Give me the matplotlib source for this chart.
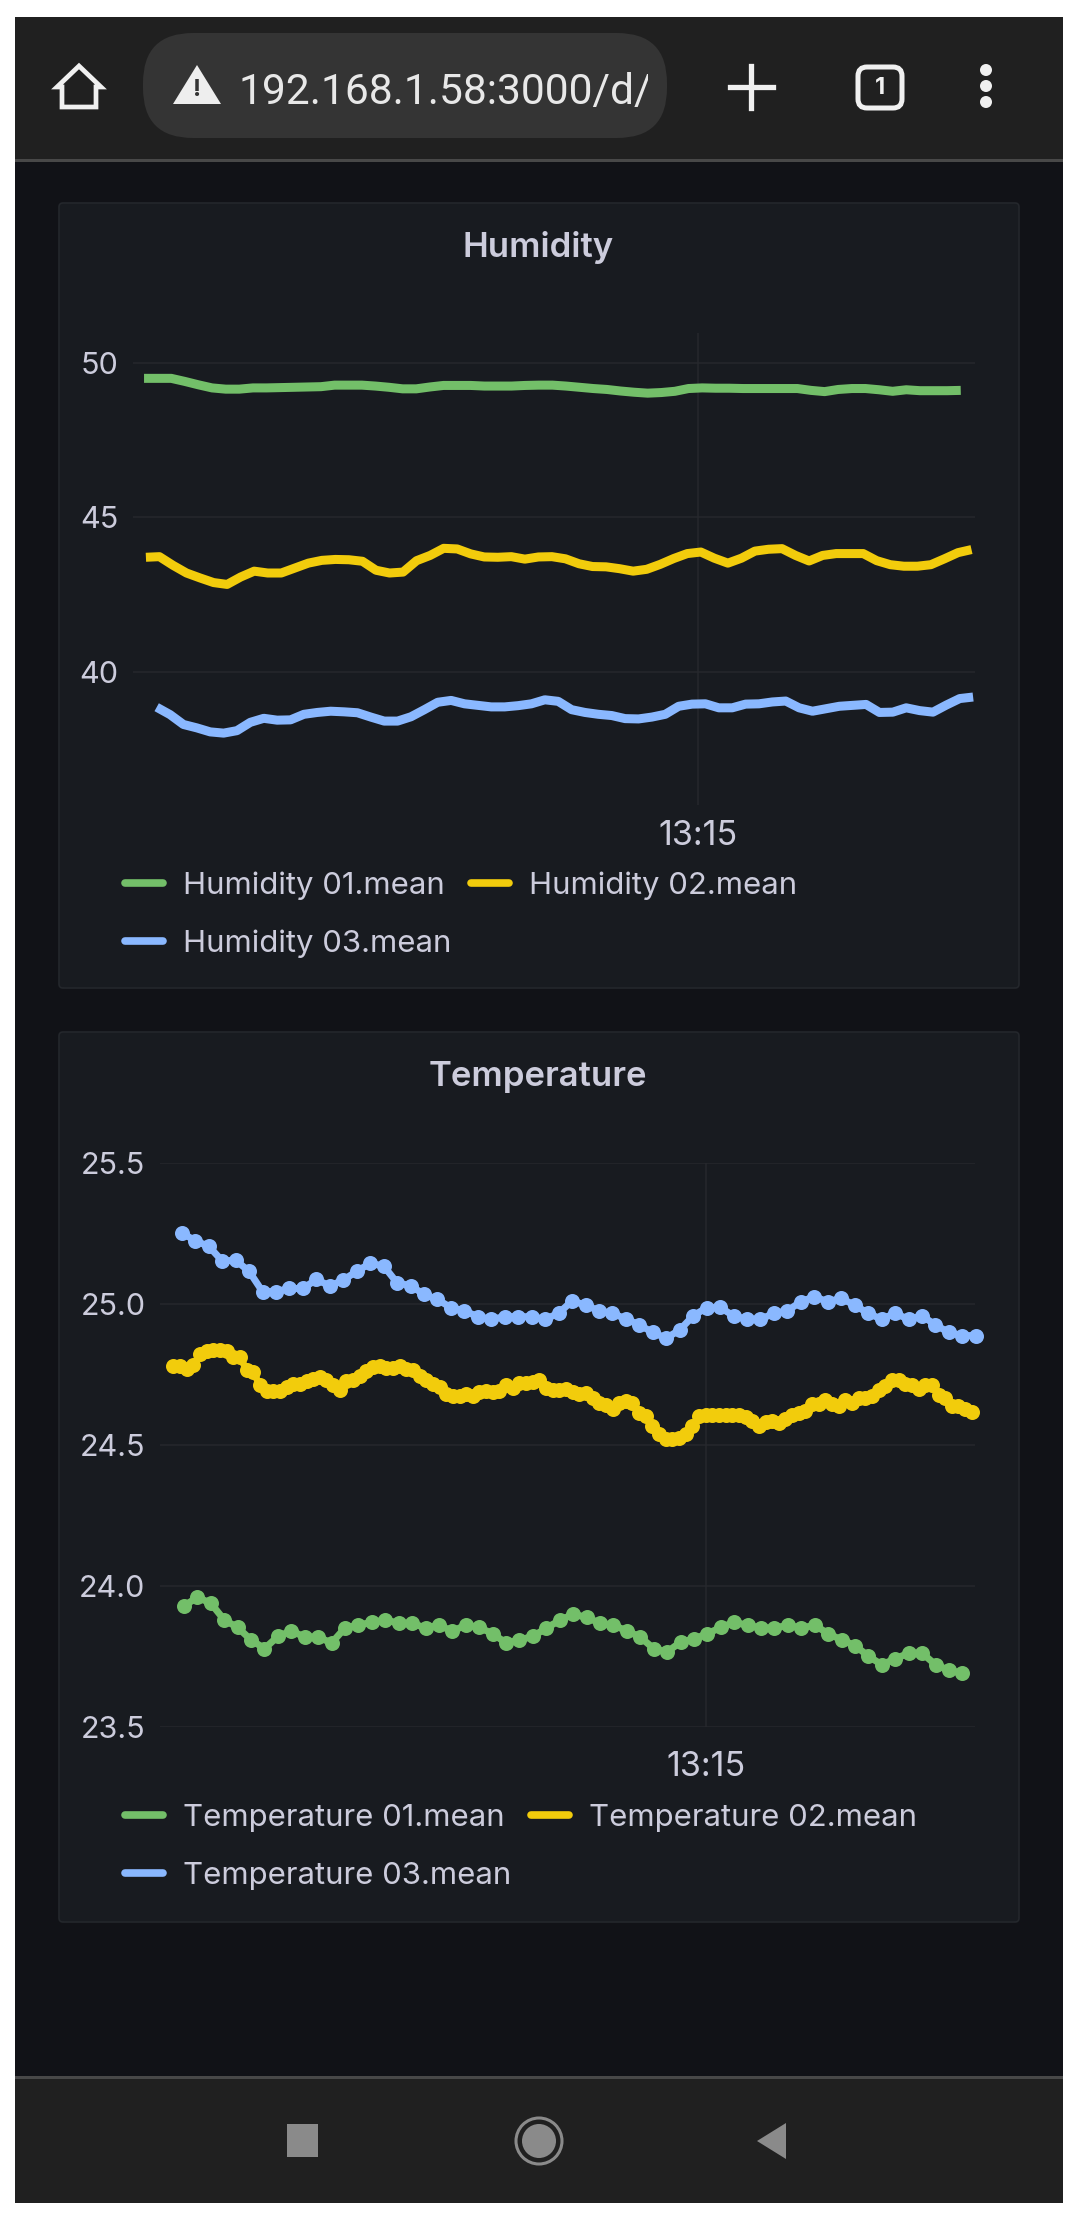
import numpy as np
import matplotlib
matplotlib.use("Agg")
import matplotlib.pyplot as plt
from matplotlib.lines import Line2D
from matplotlib.patches import Circle, FancyBboxPatch, Polygon, Rectangle

W, H = 1083, 2223

GREEN = "#73BF69"
YELLOW = "#F2CC0C"
BLUE = "#8AB8FF"
TEXT = "#ccccdc"
GRID = "#26282d"

# minutes after 13:00, start and end of each series
hum_green_span = (-5.59, 24.77)
hum_yellow_span = (-5.52, 25.17)
hum_blue_span = (-5.12, 25.23)
temp_green_span = (-4.41, 24.53)
temp_yellow_span = (-4.80, 24.88)
temp_blue_span = (-4.49, 25.03)

hum_green = [49.51, 49.51, 49.51, 49.41, 49.30, 49.20, 49.16, 49.16, 49.20, 49.20, 49.21,
             49.22, 49.23, 49.24, 49.29, 49.29, 49.29, 49.26, 49.22, 49.17, 49.17, 49.23,
             49.28, 49.28, 49.28, 49.26, 49.26, 49.26, 49.28, 49.29, 49.29, 49.26, 49.22,
             49.18, 49.15, 49.10, 49.06, 49.03, 49.05, 49.09, 49.18, 49.20, 49.19, 49.19,
             49.18, 49.18, 49.18, 49.18, 49.18, 49.12, 49.08, 49.15, 49.18, 49.18, 49.14,
             49.09, 49.14, 49.11, 49.11, 49.11, 49.12]
hum_yellow = [43.71, 43.73, 43.45, 43.20, 43.04, 42.89, 42.83, 43.07, 43.26, 43.20, 43.20,
              43.36, 43.52, 43.61, 43.64, 43.63, 43.58, 43.29, 43.20, 43.23, 43.60, 43.77,
              44.00, 43.98, 43.82, 43.72, 43.71, 43.73, 43.65, 43.72, 43.73, 43.66, 43.50,
              43.41, 43.40, 43.34, 43.26, 43.32, 43.48, 43.67, 43.83, 43.88, 43.68, 43.52,
              43.68, 43.91, 43.97, 43.99, 43.77, 43.59, 43.77, 43.83, 43.83, 43.83, 43.60,
              43.47, 43.42, 43.42, 43.47, 43.66, 43.86, 43.96]
hum_blue = [38.85, 38.61, 38.29, 38.18, 38.05, 38.01, 38.09, 38.36, 38.49, 38.43, 38.44,
            38.62, 38.68, 38.72, 38.70, 38.67, 38.53, 38.40, 38.40, 38.54, 38.77, 39.01,
            39.07, 38.96, 38.91, 38.86, 38.86, 38.90, 38.96, 39.09, 39.04, 38.77, 38.68,
            38.62, 38.58, 38.48, 38.47, 38.53, 38.62, 38.88, 38.95, 38.96, 38.83, 38.83,
            38.95, 38.96, 39.02, 39.05, 38.83, 38.72, 38.80, 38.88, 38.91, 38.94, 38.68,
            38.69, 38.83, 38.74, 38.69, 38.92, 39.13, 39.18]

temp_green = [23.929, 23.96, 23.939, 23.88, 23.853, 23.809, 23.778, 23.821, 23.841, 23.819,
              23.819, 23.798, 23.851, 23.862, 23.871, 23.88, 23.868, 23.868, 23.851, 23.862,
              23.839, 23.862, 23.853, 23.831, 23.798, 23.809, 23.821, 23.851, 23.878, 23.90,
              23.889, 23.868, 23.861, 23.841, 23.819, 23.778, 23.766, 23.801, 23.812, 23.831,
              23.853, 23.871, 23.861, 23.851, 23.851, 23.861, 23.851, 23.861, 23.831, 23.809,
              23.789, 23.751, 23.721, 23.742, 23.762, 23.762, 23.721, 23.701, 23.691]
temp_yellow = [24.781, 24.779, 24.771, 24.782, 24.824, 24.835, 24.838, 24.838, 24.832, 24.812,
               24.811, 24.767, 24.759, 24.711, 24.691, 24.691, 24.691, 24.706, 24.718, 24.718,
               24.726, 24.735, 24.74, 24.732, 24.714, 24.696, 24.726, 24.729, 24.744, 24.761,
               24.775, 24.781, 24.773, 24.773, 24.779, 24.769, 24.767, 24.744, 24.732, 24.718,
               24.705, 24.682, 24.675, 24.673, 24.681, 24.673, 24.687, 24.691, 24.688, 24.691,
               24.714, 24.702, 24.72, 24.72, 24.722, 24.729, 24.702, 24.694, 24.694, 24.70,
               24.687, 24.681, 24.685, 24.667, 24.649, 24.641, 24.628, 24.649, 24.655, 24.649,
               24.614, 24.602, 24.569, 24.538, 24.522, 24.52, 24.526, 24.538, 24.567, 24.602,
               24.608, 24.608, 24.608, 24.608, 24.608, 24.608, 24.60, 24.585, 24.569, 24.581,
               24.585, 24.579, 24.591, 24.605, 24.614, 24.62, 24.647, 24.647, 24.658, 24.647,
               24.64, 24.661, 24.649, 24.667, 24.667, 24.673, 24.694, 24.708, 24.732, 24.729,
               24.716, 24.711, 24.699, 24.711, 24.714, 24.679, 24.667, 24.64, 24.64, 24.626,
               24.618]
temp_blue = [25.253, 25.224, 25.205, 25.153, 25.155, 25.116, 25.044, 25.044, 25.055, 25.055,
             25.087, 25.064, 25.085, 25.116, 25.144, 25.135, 25.075, 25.065, 25.034, 25.016,
             24.987, 24.976, 24.955, 24.946, 24.955, 24.955, 24.955, 24.946, 24.967, 25.011,
             24.996, 24.976, 24.967, 24.947, 24.926, 24.899, 24.879, 24.908, 24.958, 24.987,
             24.988, 24.958, 24.946, 24.946, 24.967, 24.976, 25.008, 25.026, 25.008, 25.02,
             24.996, 24.967, 24.946, 24.967, 24.946, 24.958, 24.926, 24.899, 24.888, 24.888]

hum_ticks = [40, 45, 50]
temp_ticks = [23.5, 24.0, 24.5, 25.0, 25.5]
time_tick = 15
time_label = "13:15"

plt.rcParams["font.family"] = ["Inter", "DejaVu Sans"]


def px_axes(fig, left, top, right, bottom):
    return fig.add_axes([left / W, 1 - bottom / H, (right - left) / W, (bottom - top) / H])


def panel(bg, top, bottom):
    bg.add_patch(FancyBboxPatch((59, top), 960, bottom - top,
                                boxstyle="round,pad=0,rounding_size=4",
                                fc="#181b20", ec="#24272c", lw=1.2))


def style_axes(ax, pad):
    ax.patch.set_alpha(0)
    for s in ax.spines.values():
        s.set_visible(False)
    ax.grid(True, color=GRID, lw=1.1)
    ax.set_axisbelow(True)
    ax.tick_params(length=0, labelcolor=TEXT)
    ax.tick_params(axis="y", pad=10.5, labelsize=22)
    ax.tick_params(axis="x", pad=pad, labelsize=24.5)


def add_legend(ax, labels, x, y):
    # columns fill top down, so the third entry goes second to sit under the first one
    order = [0, 2, 1]
    colors = (GREEN, YELLOW, BLUE)
    handles = [Line2D([], [], color=colors[i], lw=5.5, solid_capstyle="round") for i in order]
    ax.legend(handles, [labels[i] for i in order], ncol=2, frameon=False, loc="upper left",
              bbox_to_anchor=(x / W, 1 - y / H), bbox_transform=ax.figure.transFigure,
              borderpad=0, borderaxespad=0, fontsize=22.4, labelcolor=TEXT,
              handlelength=1.22, handletextpad=0.63, columnspacing=0.66, labelspacing=0.95)


fig = plt.figure(figsize=(W / 100, H / 100), dpi=100, facecolor="white")

# phone screen drawn in pixel coordinates behind the charts
bg = fig.add_axes([0, 0, 1, 1], zorder=-1)
bg.set_xlim(0, W)
bg.set_ylim(H, 0)
bg.axis("off")
bg.add_patch(Rectangle((15, 17), 1048, 2186, fc="#111217", ec="none"))
bg.add_patch(Rectangle((15, 17), 1048, 143, fc="#202020", ec="none"))
bg.add_patch(Rectangle((15, 159), 1048, 3, fc="#484848", ec="none"))
bg.add_patch(Rectangle((15, 2078), 1048, 125, fc="#202020", ec="none"))
bg.add_patch(Rectangle((15, 2076), 1048, 3, fc="#484848", ec="none"))

# address bar
bg.add_patch(FancyBboxPatch((143, 33), 524, 105, boxstyle="round,pad=0,rounding_size=50",
                            fc="#343434", ec="none"))
url = bg.text(238, 88, "192.168.1.58:3000/d/", color="#e8e8e8", fontsize=30.6,
              family=["Roboto", "DejaVu Sans"], va="center_baseline")
url.set_clip_path(Rectangle((143, 33), 505, 105, transform=bg.transData))
url.set_clip_on(True)
bg.add_patch(Polygon([(197, 65), (173, 104), (221, 104)], closed=True, fc="#eeeeee", ec="none"))
bg.text(197, 90, "!", color="#343434", fontsize=17, weight="bold", ha="center", va="center")

# home, plus, tabs, menu
bg.add_patch(Polygon([(79, 66), (57, 87), (62, 87), (62, 107), (96, 107), (96, 87), (101, 87)],
                     closed=True, fc="none", ec="#f0f0f0", lw=3.4))
bg.plot([730, 773], [87, 87], color="#f0f0f0", lw=3.8)
bg.plot([751, 751], [66, 108], color="#f0f0f0", lw=3.8)
bg.add_patch(FancyBboxPatch((858, 67), 44, 41, boxstyle="round,pad=0,rounding_size=9",
                            fc="none", ec="#f0f0f0", lw=3.6))
bg.text(880, 88, "1", color="#f0f0f0", fontsize=17, weight="bold", ha="center", va="center")
for y in (70, 86, 102):
    bg.add_patch(Circle((986, y), 6, fc="#f0f0f0", ec="none"))

# navigation bar
bg.add_patch(Rectangle((287, 2124), 31, 33, fc="#8a8a8a", ec="none"))
bg.add_patch(Circle((539, 2141), 23, fc="none", ec="#8a8a8a", lw=2.2))
bg.add_patch(Circle((539, 2141), 17, fc="#8a8a8a", ec="none"))
bg.add_patch(Polygon([(757, 2141), (786, 2123), (786, 2159)], closed=True, fc="#8a8a8a", ec="none"))

panel(bg, 203, 988)
panel(bg, 1032, 1922)
bg.text(538, 247, "Humidity", color=TEXT, fontsize=25, weight="semibold", ha="center", va="center")
bg.text(538, 1077, "Temperature", color=TEXT, fontsize=25, weight="semibold", ha="center", va="center")

# humidity panel
ax1 = px_axes(fig, 133, 333, 975, 805)
for vals, span, col in [(hum_green, hum_green_span, GREEN),
                        (hum_yellow, hum_yellow_span, YELLOW),
                        (hum_blue, hum_blue_span, BLUE)]:
    ax1.plot(np.linspace(span[0], span[1], len(vals)), vals, color=col, lw=6.5,
             solid_capstyle="butt", solid_joinstyle="round", clip_on=False)
ax1.set_xlim(-6.0, 25.3)
ax1.set_ylim(35.68, 50.98)
ax1.set_yticks(hum_ticks)
ax1.set_xticks([time_tick])
ax1.set_xticklabels([time_label])
style_axes(ax1, 11)
add_legend(ax1, ["Humidity 01.mean", "Humidity 02.mean", "Humidity 03.mean"], 125, 871)

# temperature panel
ax2 = px_axes(fig, 160, 1163, 975, 1727)
for vals, span, col in [(temp_green, temp_green_span, GREEN),
                        (temp_yellow, temp_yellow_span, YELLOW),
                        (temp_blue, temp_blue_span, BLUE)]:
    ax2.plot(np.linspace(span[0], span[1], len(vals)), vals, color=col, lw=5.0, marker="o",
             ms=10.8, mew=0, clip_on=False)
ax2.set_xlim(-5.30, 25.0)
ax2.set_ylim(23.5, 25.5)
ax2.set_yticks(temp_ticks)
ax2.set_yticklabels([f"{t:.1f}" for t in temp_ticks])
ax2.set_xticks([time_tick])
ax2.set_xticklabels([time_label])
style_axes(ax2, 17)
add_legend(ax2, ["Temperature 01.mean", "Temperature 02.mean", "Temperature 03.mean"], 125, 1804)

fig.savefig("out.png", dpi=100, facecolor="white")
